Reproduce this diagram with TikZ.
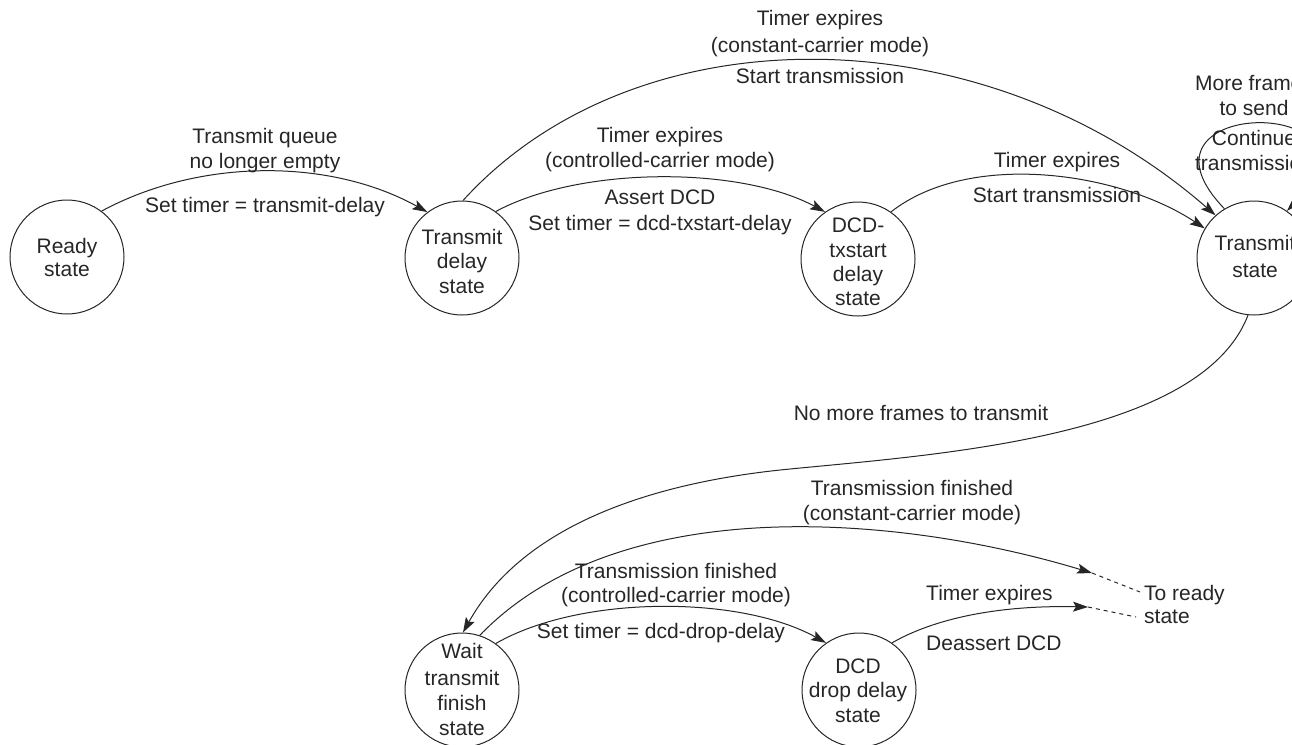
\documentclass[tikz,border=0pt]{standalone}
\usepackage{fontspec}
\setmainfont{Liberation Sans}
\usetikzlibrary{arrows.meta}
\begin{document}
\begin{tikzpicture}[x=1pt,y=-1pt,
  every node/.style={font=\fontsize{21}{25}\selectfont, text=black!85},
  state/.style={draw=black!85, circle, minimum size=114pt, inner sep=0pt, line width=1pt},
  lbl/.style={anchor=base, inner sep=0pt},
  lbll/.style={anchor=base west, inner sep=0pt},
  arr/.style={draw=black!85, line width=1pt, -{Stealth[length=15pt,width=10pt,inset=3pt]}},
  dsh/.style={draw=black!85, line width=1pt, dash pattern=on 4pt off 4pt}]
\useasboundingbox (0,0) rectangle (1292,744);

% states
\node[state] (ready) at (67,257) {};
\node[lbl] (ready1) at (67,253) {Ready};
\node[lbl] (ready2) at (67,276) {state};

\node[state] (tdelay) at (462,258) {};
\node[lbl] (tdelay1) at (462,244) {Transmit};
\node[lbl] (tdelay2) at (462,268) {delay};
\node[lbl] (tdelay3) at (462,293) {state};

\node[state] (dcdtx) at (858,259) {};
\node[lbl] (dcdtx1) at (858,232) {DCD-};
\node[lbl] (dcdtx2) at (858,257) {txstart};
\node[lbl] (dcdtx3) at (858,281) {delay};
\node[lbl] (dcdtx4) at (858,305) {state};

\node[state] (tx) at (1254,258) {};
\node[lbl] (tx1) at (1255,250) {Transmit};
\node[lbl] (tx2) at (1255,277) {state};

\node[state] (wait) at (462,690) {};
\node[lbl] (wait1) at (462,658) {Wait};
\node[lbl] (wait2) at (462,685) {transmit};
\node[lbl] (wait3) at (462,710) {finish};
\node[lbl] (wait4) at (462,735) {state};

\node[state] (drop) at (859,690) {};
\node[lbl] (drop1) at (858,673) {DCD};
\node[lbl] (drop2) at (858,697) {drop delay};
\node[lbl] (drop3) at (858,722) {state};

% free ends towards "To ready state"
\coordinate (r1) at (1092,573);
\coordinate (r1e) at (1140,592);
\coordinate (r2) at (1088,607);
\coordinate (r2e) at (1136,617);
\coordinate (nm) at (780,470);
\node[lbll] (toready1) at (1144,600) {To ready};
\node[lbll] (toready2) at (1144,623) {state};

% connectors
\draw[arr] (ready.53) .. controls (200,158) and (330,158) .. (tdelay.127);
\draw[arr] (tdelay.54) .. controls (580,166) and (740,166) .. (dcdtx.125);
\draw[arr] (tdelay.89) .. controls (635,11) and (981,11) .. (tx.132);
\draw[arr] (dcdtx.55) .. controls (970,150) and (1120,172) .. (tx.149);
\draw[arr] (tx.121) .. controls (1115,95) and (1400,95) .. (tx.55);
\draw[arr] (tx.264) .. controls (1200,440) and (928,455) .. (nm)
                    .. controls (640,485) and (520,530) .. (wait.89);
\draw[arr] (wait.72) .. controls (620,490) and (900,515) .. (r1);
\draw[dsh] (r1) -- (r1e);
\draw[arr] (wait.54) .. controls (580,595) and (740,595) .. (drop.125);
\draw[arr] (drop.55) .. controls (935,618) and (1000,605) .. (r2);
\draw[dsh] (r2) -- (r2e);

% labels
\node[lbl] (a1) at (265,143) {Transmit queue};
\node[lbl] (a2) at (265,168) {no longer empty};
\node[lbl] (a3) at (265,212) {Set timer = transmit-delay};

\node[lbl] (b1) at (660,142) {Timer expires};
\node[lbl] (b2) at (660,167) {(controlled-carrier mode)};
\node[lbl] (b3) at (660,204) {Assert DCD};
\node[lbl] (b4) at (660,230) {Set timer = dcd-txstart-delay};

\node[lbl] (c1) at (820,25) {Timer expires};
\node[lbl] (c2) at (820,52) {(constant-carrier mode)};
\node[lbl] (c3) at (820,83) {Start transmission};

\node[lbl] (d1) at (1057,167) {Timer expires};
\node[lbl] (d2) at (1057,202) {Start transmission};

\node[lbl] (e1) at (1254,90) {More frames};
\node[lbl] (e2) at (1254,115) {to send};
\node[lbl] (e3) at (1254,145) {Continue};
\node[lbl] (e4) at (1254,170) {transmission};

\node[lbl] (f1) at (921,420) {No more frames to transmit};

\node[lbl] (g1) at (912,495) {Transmission finished};
\node[lbl] (g2) at (912,520) {(constant-carrier mode)};

\node[lbl] (h1) at (676,578) {Transmission finished};
\node[lbl] (h2) at (676,602) {(controlled-carrier mode)};
\node[lbl] (h3) at (661,638) {Set timer = dcd-drop-delay};

\node[lbll] (i1) at (926,600) {Timer expires};
\node[lbll] (i2) at (926,650) {Deassert DCD};
\end{tikzpicture}
\end{document}
